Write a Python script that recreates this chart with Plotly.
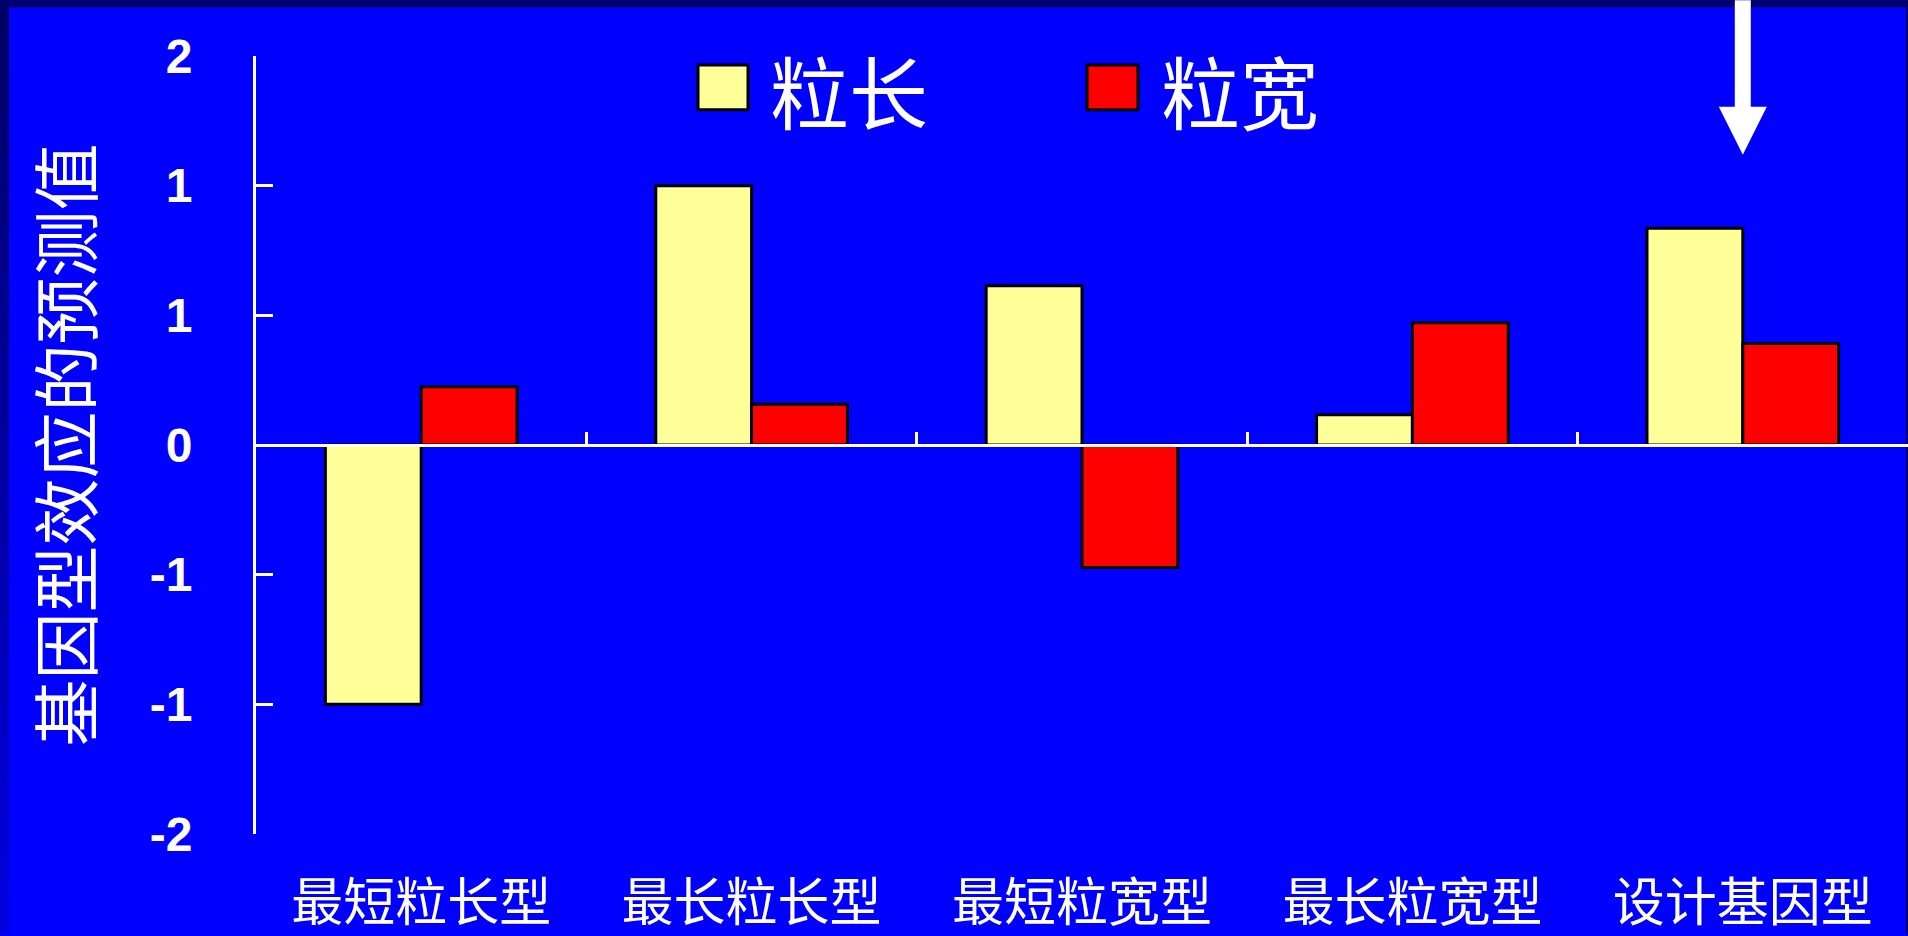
import plotly.graph_objects as go

# ---- data ----
categories = ["最短粒长型", "最长粒长型", "最短粒宽型", "最长粒宽型", "设计基因型"]
grain_length = [-1.0, 1.0, 0.614, 0.117, 0.836]   # 粒长
grain_width = [0.225, 0.157, -0.472, 0.471, 0.391]  # 粒宽
series_names = ["粒长", "粒宽"]
y_tickvals = [-1.5, -1.0, -0.5, 0.0, 0.5, 1.0, 1.5]
y_ticktext = ["-2", "-1", "-1", "0", "1", "1", "2"]
y_title = "基因型效应的预测值"

# ---- style / layout constants ----
W, H = 1908, 936
ML, MR, MT, MB = 256, 0, 56, 100
PW, PH = W - ML - MR, H - MT - MB
BLUE = "#0000FF"
NAVY = "#000066"
YELLOW = "#FFFF99"
RED = "#FF0000"
CJK = "Noto Sans CJK SC"
YMIN, YMAX = -1.5, 1.5


def px_x(p):
    return (p - ML) / PW


def px_y(p):
    return (H - MB - p) / PH


fig = go.Figure()
fig.add_trace(go.Bar(
    x=categories, y=grain_length, name=series_names[0],
    marker=dict(color=YELLOW, line=dict(color="black", width=3)),
    showlegend=False,
))
fig.add_trace(go.Bar(
    x=categories, y=grain_width, name=series_names[1],
    marker=dict(color=RED, line=dict(color="black", width=3)),
    showlegend=False,
))

n = len(categories)
boundaries = [i - 0.5 for i in range(n + 1)]

# invisible helper so the zero-level category axis (xaxis2) is drawn
fig.add_trace(go.Scatter(
    x=boundaries, y=[0] * len(boundaries), xaxis="x2", yaxis="y",
    mode="markers", marker=dict(opacity=0), hoverinfo="skip",
    showlegend=False,
))

shapes = []
# left gradient strip
segs = 24
for i in range(segs):
    t = i / (segs - 1)
    b = int(0x66 + (0xDD - 0x66) * t)
    shapes.append(dict(
        type="rect", xref="paper", yref="paper",
        x0=px_x(0), x1=px_x(9),
        y0=px_y(H * (i + 1) / segs), y1=px_y(H * i / segs),
        fillcolor=f"rgb(0,0,{b})", line=dict(width=0), layer="below",
    ))
# top band
shapes.append(dict(type="rect", xref="paper", yref="paper",
                   x0=px_x(0), x1=px_x(W), y0=px_y(7), y1=px_y(0),
                   fillcolor=NAVY, line=dict(width=0), layer="below"))
# right thin band
shapes.append(dict(type="rect", xref="paper", yref="paper",
                   x0=px_x(1906), x1=px_x(W), y0=px_y(H), y1=px_y(0),
                   fillcolor=NAVY, line=dict(width=0), layer="below"))

# manual legend boxes
shapes.append(dict(type="rect", xref="paper", yref="paper",
                   x0=px_x(698), x1=px_x(748), y0=px_y(110), y1=px_y(65),
                   fillcolor=YELLOW, line=dict(color="black", width=3)))
shapes.append(dict(type="rect", xref="paper", yref="paper",
                   x0=px_x(1087), x1=px_x(1138), y0=px_y(110), y1=px_y(65),
                   fillcolor=RED, line=dict(color="black", width=3)))

# arrow over 设计基因型
ax_c = 0.9  # centre of last category in paper coords
shapes.append(dict(type="rect", xref="paper", yref="paper",
                   x0=ax_c - 8 / PW, x1=ax_c + 8 / PW,
                   y0=px_y(108), y1=px_y(0),
                   fillcolor="white", line=dict(width=0)))
shapes.append(dict(type="path", xref="paper", yref="paper",
                   path=(f"M {ax_c - 24 / PW},{px_y(107)} "
                         f"L {ax_c + 24 / PW},{px_y(107)} "
                         f"L {ax_c},{px_y(155)} Z"),
                   fillcolor="white", line=dict(width=0)))

annotations = [
    dict(text=series_names[0], xref="paper", yref="paper",
         x=px_x(768), y=px_y(90), xanchor="left", yanchor="middle",
         showarrow=False, font=dict(family=CJK, size=79, color="white")),
    dict(text=series_names[1], xref="paper", yref="paper",
         x=px_x(1159), y=px_y(90), xanchor="left", yanchor="middle",
         showarrow=False, font=dict(family=CJK, size=79, color="white")),
]

fig.update_layout(
    width=W, height=H,
    margin=dict(l=ML, r=MR, t=MT, b=MB, pad=0),
    paper_bgcolor=BLUE, plot_bgcolor=BLUE,
    barmode="group", bargap=0.42, bargroupgap=0.0,
    showlegend=False,
    shapes=shapes, annotations=annotations,
    xaxis=dict(
        type="category", range=[-0.5, n - 0.5],
        showline=False, ticks="", showgrid=False, zeroline=False,
        tickfont=dict(family=CJK, size=52, color="white"),
        ticklabelstandoff=34,
        fixedrange=True,
    ),
    xaxis2=dict(
        type="linear",
        overlaying="x", anchor="free",
        position=(0 - YMIN) / (YMAX - YMIN),
        range=[-0.5, n - 0.5],
        tickmode="array", tickvals=boundaries, showticklabels=False,
        showline=True, linecolor="white", linewidth=3,
        ticks="inside", ticklen=12, tickwidth=3, tickcolor="white",
        showgrid=False, zeroline=False,
    ),
    yaxis=dict(
        range=[YMIN, YMAX],
        tickmode="array", tickvals=y_tickvals, ticktext=y_ticktext,
        tickfont=dict(family="Liberation Sans, Arial", size=48, color="white",
                      weight="bold"),
        showline=True, linecolor="white", linewidth=3,
        ticks="inside", ticklen=17, tickwidth=3, tickcolor="white",
        ticklabelstandoff=51,
        showgrid=False, zeroline=False,
        title=dict(text=y_title, standoff=36,
                   font=dict(family=CJK, size=67, color="white")),
    ),
)

fig.write_html("out.html",
               config={"displayModeBar": False},
               post_script="document.body.style.margin='0px';"
                           "document.body.style.overflow='hidden';")
